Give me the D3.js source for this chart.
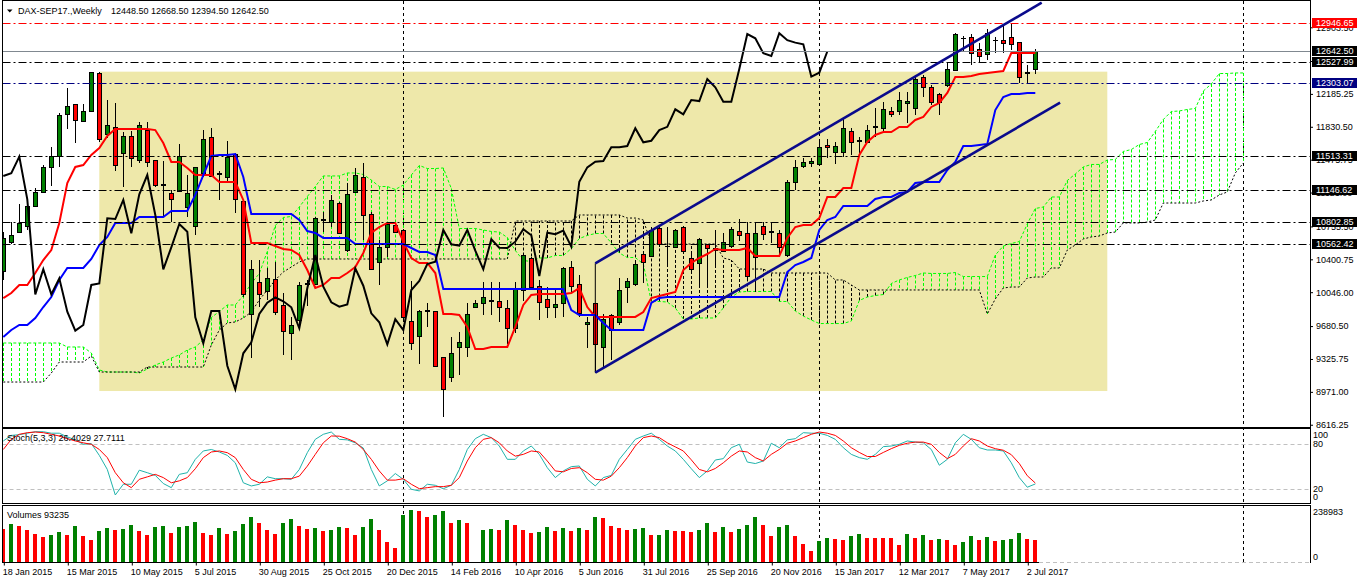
<!DOCTYPE html>
<html>
<head>
<meta charset="utf-8">
<script src="https://cdn.jsdelivr.net/npm/d3@7"></script>
<style>
  body { margin: 0; background: #fff; overflow: hidden; }
  text { font-family: "Liberation Sans", Arial, sans-serif; font-size: 9px; fill: #000; }
</style>
</head>
<body>
<div id="chart"></div>
<script>
// weekly DAX-SEP17 bars, first bar = week of 18 Jan 2015
const opens = [10275,10591,10698,10760,10979,11124,11400,11518,11965,12073, 11896,11997,12407,11749,11831,11544,11728,11472,11796,11472,
  11210,11119,11138,10968,10760,11329,11717,11320,11285,11537, 11033,9808,10159,10062,10185,9908,9603,9746,10135,10135,
  10825,10800,11005,10501,11130,11285,10890,10369,10537,10768, 10717,9732,9577,9850,9843,9344,9134,9458,9451,9890,
  9926,9965,9954,9872,9657,10070,10412,10116,9969,9883, 9926,10321,10131,9700,9926,9452,9797,9721,10105,10131,
  10455,10437,10735,10541,10530,10746,10412,10358,10563,10501, 10494,10544,10710,10688,10429,10763,10692,10688,10447,11231,
  11411,11436,11426,11631,11562,11562,11785,11690,11670,11835, 11820,12000,12000,12084,12030,12371,12263,12181,12281,12443,
  12790,12802,12666,12616,12770,12767,12802,12748,12420,12448.5];
const highs = [10695,10806,10994,11062,11167,11415,11612,11979,12245,12076, 12076,12425,12425,12119,12090,11774,11785,11885,11885,11472,
  11461,11148,11645,11310,11393,11796,11814,11350,11677,11551, 11041,10393,10393,10307,10372,10034,9782,10159,10180,10860,
  10914,11095,11022,11221,11382,11443,10914,10609,10806,10806, 10725,10170,9854,9933,9846,9350,9566,9613,9926,9962,
  10159,10159,10159,9962,10159,10447,10429,10178,10105,10070, 10321,10386,10232,9782,9926,9811,9811,10196,10196,10393,
  10483,10753,10760,10753,10725,10760,10466,10627,10563,10717, 10681,10753,10832,10806,10806,10806,10806,10717,11256,11472,
  11490,11490,11695,11695,11670,11922,11814,11724,11850,12030, 12101,12047,12209,12209,12389,12389,12281,12192,12515,12839,
  12810,12831,12731,12882,12802,12918,12947,12748,12497,12668.5];
const lows = [10178,10563,10681,10717,10968,11113,11195,11400,11806,11652, 11882,11990,11669,11706,11357,11184,11393,11436,11400,11184,
  10868,10806,11130,10860,10663,11292,11292,11040,11238,10897, 9997,9333,9890,9962,9800,9369,9315,9657,9900,10124,
  10698,10746,10671,10483,11113,10609,10285,10124,10429,10681, 9746,9422,9271,9674,9236,8703,9081,9153,9350,9883,
  9800,9800,9728,9487,9603,9951,10070,9746,9764,9764, 9782,10052,9782,9441,9171,9225,9315,9692,9926,10116,
  10148,10429,10537,10339,10520,10483,10256,10105,10105,10304, 10483,10520,10602,10178,10045,10609,10573,10429,10429,11148,
  11382,11400,11418,11490,11429,11508,11526,11515,11652,11717, 11777,11939,11957,11868,11957,12148,12065,11957,12263,12432,
  12640,12497,12515,12551,12623,12623,12659,12299,12306,12394.5];
const closes = [10631,10663,10789,10979,11130,11393,11518,11954,12051,11900, 12004,12418,11695,11846,11415,11728,11490,11846,11447,11199,
  11200,11048,11518,11113,11393,11695,11300,11330,11508,11048, 10023,10293,10023,10196,9836,9631,9692,10124,10140,10843,
  10835,11041,10681,11102,11310,10879,10293,10530,10782,10699, 9775,9495,9843,9843,9253,8999,9387,9506,9811,9933,
  9991,9948,9883,9657,10088,10447,10105,9937,9890,9915, 10304,10116,9818,9722,9484,9754,9638,10070,10167,10350,
  10375,10717,10563,10548,10717,10494,10293,10617,10526,10523, 10591,10725,10660,10221,10688,10671,10710,10537,11238,11393,
  11454,11461,11609,11609,11623,11814,11663,11680,11795,11830, 12019,11965,12119,12108,12346,12256,12101,12101,12454,12831,
  12785,12623,12594,12839,12765,12738,12720,12371,12414,12642.5];

// Ichimoku lines
const tenkan = [9983,10037,10124,10124,10253,10393,10501,10793,11224,11397, 11418,11526,11601,11731,11806,11806,11806,11806,11806,11795,
  11655,11451,11451,11386,11310,11310,11310,11235,11235,11235, 11041,10577,10577,10577,10544,10512,10501,10447,10285,10091,
  10124,10199,10199,10253,10318,10469,10685,10749,10793,10793, 10588,10415,10361,10361,10253,9811,9811,9800,9671,9433,
  9433,9455,9455,9455,9671,9908,10016,10027,10027,10027, 10027,10037,10091,9886,9779,9779,9779,9779,9779,9779,
  9832,9983,10005,10027,10048,10285,10361,10415,10458,10512, 10501,10501,10501,10523,10437,10437,10437,10437,10631,10749,
  10771,10771,10846,11073,11073,11170,11170,11526,11666,11742, 11774,11774,11828,11828,11904,11936,12044,12087,12195,12367,
  12367,12378,12400,12411,12421,12432,12626,12626,12626,12626];
const kijun = [9563,9638,9692,9692,9768,9886,9994,10178,10307,10307, 10307,10404,10555,10642,10793,10793,10793,10857,10857,10857,
  10857,10922,10922,10922,11095,11310,11515,11526,11526,11537, 11289,10890,10890,10890,10890,10890,10890,10825,10706,10685,
  10631,10631,10631,10631,10566,10566,10566,10566,10566,10566, 10566,10523,10480,10480,10447,10081,10081,10081,10081,10081,
  10081,10081,10081,10081,10081,10081,10081,10081,10081,10081, 10081,9854,9800,9800,9800,9714,9638,9638,9638,9638,
  9638,9930,9983,9994,9994,9994,9994,9994,9994,9994, 9994,9994,9994,9994,9994,9994,9994,9994,10264,10339,
  10372,10415,10717,10825,10857,10976,10976,10976,10976,11051, 11073,11073,11116,11127,11224,11235,11235,11235,11364,11451,
  11623,11623,11634,11645,12011,12152,12184,12184,12195,12195];
// cloud spans, 26 bars ahead of price (156 positions)
const spanA = [9498,9498,9498,9498,9498,9498,9498,9498,9455,9455, 9455,9390,9207,9185,9185,9185,9185,9174,9218,9261,
  9293,9336,9369,9422,9455,9530,9773,9838,9908,9908, 10010,10140,10248,10485,10766,10852,10863,10965,11078,11186,
  11300,11300,11300,11332,11332,11316,11256,11186,11186,11154, 11202,11310,11413,11380,11380,11386,11165,10733,10733,10733,
  10717,10701,10695,10636,10496,10388,10377,10415,10415,10442, 10442,10517,10625,10658,10679,10679,10577,10469,10420,10420,
  10350,9946,9946,9940,9876,9757,9757,9768,9768,9768, 9876,9994,10048,10054,10054,10054,10054,9946,9946,9843,
  9789,9746,9708,9708,9708,9708,9735,9957,9994,10010, 10021,10140,10178,10205,10226,10253,10248,10248,10248,10258,
  10215,10215,10215,10215,10447,10544,10571,10593,10782,10949, 10965,11073,11073,11251,11321,11397,11424,11424,11472,11478,
  11564,11585,11639,11661,11780,11909,11995,12001,12017,12028, 12216,12292,12405,12405,12411,12411];
const spanB = [9077,9077,9077,9077,9077,9077,9174,9293,9293,9293, 9293,9358,9185,9185,9185,9185,9185,9185,9239,9239,
  9239,9239,9239,9239,9239,9239,9476,9638,9714,9725, 9768,9832,9962,10070,10178,10264,10318,10372,10404,10404,
  10404,10404,10404,10404,10404,10404,10404,10404,10404,10404, 10404,10404,10404,10404,10404,10404,10404,10404,10404,10404,
  10404,10404,10404,10404,10814,10814,10814,10814,10814,10814, 10814,10814,10879,10879,10879,10879,10879,10879,10846,10846,
  10825,10566,10566,10566,10566,10566,10566,10566,10566,10566, 10415,10393,10296,10296,10296,10296,10253,10253,10253,10253,
  10253,10253,10253,10253,10178,10178,10124,10070,10070,10070, 10070,10070,10070,10070,10070,10070,10070,10070,10070,10070,
  10070,10070,10070,9811,9973,10091,10102,10102,10199,10210, 10210,10307,10307,10501,10555,10620,10642,10652,10685,10695,
  10793,10793,10793,10803,10825,11008,11008,11008,11008,11008, 11030,11041,11095,11127,11332,11440];

const stochK = [84.5,92,93,95,97,97,95,95,90,86, 80,81,65,46,11.5,26,26,45,41.6,38,
  27,21.4,39.4,41.6,59.7,71,73,69.6,65,55, 28,23.7,26,36,33.5,33.5,32.7,46,68.7,86.7,
  93.5,96.6,86.7,86,82,75,46,23.7,30.6,40.5, 32.7,19.2,17,26,24.6,20,24.6,46,73,87.6,
  93.5,89,77.7,59.7,59.7,71,77.7,66.4,48.4,35, 44,49.8,50.7,32.7,23.7,35,38,59.7,73,86.7,
  91.2,95,86.7,77.7,71,59.7,47,35,44,58.8, 60.6,75.4,80,56,54,57.4,81.4,75.4,86,87.6,
  95.7,95,95,92,86.7,75.4,66.4,62,59.7,66.4, 76.8,77.7,80,84.5,83,82,73,51.7,59.7,82,
  93.5,86.7,75.4,72.3,72.3,71,55,35,22,26.4029];
const stochD = [73,86.7,93.5,95.7,96.6,95.7,93.5,91.2,87.6,84.5, 82,80,73,62,41.6,28,21.4,32.7,36,39.4,
  35,28,30.6,35,47,62,69.6,71,68.7,62, 46,32.7,28,29,31.6,33.5,33.5,37,50.5,66.4,
  82,91.2,91,87.6,83,73,59.7,44,31.6,31.6, 33.5,26,20,21.4,22.8,22.8,24.6,35,57.4,75.4,
  86.7,89,82,71,64,66.4,71,69.6,57.4,44, 42.8,47.3,48.4,41.6,32.7,31.6,37,48.4,62,77.7,
  89,91.2,89,82,76.5,71,59,46,42.8,47.3, 55,64,71,69.6,62,57.4,66.4,73,81.4,84.5,
  89,93.5,96.6,95,92,84.5,75.4,69,63.5,63.5, 69,74.1,78.6,81.4,83,83,80,69,60.6,66.4,
  77.7,87.6,84.5,77.7,74.1,72,66,54,37.5,27.7111];
const volumes = [142200,162920,153260,136690,121500,104930,117360,128410,117360,153260,
  109080,95270,132550,146350,136690,142210,158780,133930,113220,150500,
  154640,125640,150500,154640,169830,124260,117360,146350,121500,132550,
  162920,191920,167060,138070,121500,165680,183630,153260,142210,146350,
  133930,136690,150500,146350,117360,150500,183630,136690,84220,59370,
  200200,220910,216770,191920,200200,216770,167060,179490,167060,1380,
  138070,140830,138070,179490,158780,138070,125640,129790,150500,133930,
  146350,133930,146350,138070,191920,187780,154640,146350,138070,140830,
  143590,113220,117360,138070,133930,132550,129790,136690,165680,128410,
  149120,128410,142210,157400,190540,157400,111840,149120,157400,111840,
  78700,49710,91130,103550,99410,95270,111840,120120,103550,102860,
  102170,101480,74560,120120,103550,115980,93890,96650,94580,74560,
  86980,111840,95270,107690,91130,95270,96650,124260,99410,93235];

const dateLabels = ["18 Jan 2015","15 Mar 2015","10 May 2015","5 Jul 2015","30 Aug 2015","25 Oct 2015",
  "20 Dec 2015","14 Feb 2016","10 Apr 2016","5 Jun 2016","31 Jul 2016","25 Sep 2016","20 Nov 2016",
  "15 Jan 2017","12 Mar 2017","7 May 2017","2 Jul 2017"];
const priceTicks = [12903.50,12540.00,12185.25,11830.50,11475.75,11121.00,10755.50,10400.75,10046.00,9680.50,9325.75,8971.00,8616.25];
const yearSeparators = [50, 102, 155];
const hLevels = [12946.65, 12527.99, 12303.07, 11513.31, 11146.62, 10802.85, 10562.42];
const bidPrice = 12642.50;
const zone = {bar1: 12, bar2: 138, top: 12425, bottom: 8980};
const channelUpper = [[74, 10358], [129.8, 13169]];
const channelLower = [[74, 9178], [132.1, 12090]];

const levelColor = {12946.65: "#ff0000", 12303.07: "#000080"};

const W = 1358, H = 584;
const L = 2.5, R = 1310;

const x = d3.scaleLinear().domain([0, 155]).range([3.3, 1243.3]);
const y = d3.scaleLinear().domain([8591.9, 13187.2]).range([427, 1]);
const ySt = d3.scaleLinear().domain([0, 100]).range([503.5, 429.5]);
const yVol = d3.scaleLinear().domain([0, 238983]).range([562.5, 505.5]);
const px = i => Math.round(x(i));

const svg = d3.select("#chart").append("svg")
  .attr("width", W).attr("height", H).style("display", "block");

const defs = svg.append("defs");
defs.append("clipPath").attr("id", "clipMain").append("rect")
  .attr("x", L).attr("y", 0.5).attr("width", R - L).attr("height", 426.5);
defs.append("clipPath").attr("id", "clipSt").append("rect")
  .attr("x", L).attr("y", 428.5).attr("width", R - L).attr("height", 74.5);
defs.append("clipPath").attr("id", "clipVol").append("rect")
  .attr("x", L).attr("y", 505.5).attr("width", R - L).attr("height", 57);

// background rectangle object
const gBack = svg.append("g").attr("clip-path", "url(#clipMain)");
gBack.append("rect")
  .attr("x", x(zone.bar1)).attr("y", y(zone.top))
  .attr("width", x(zone.bar2) - x(zone.bar1))
  .attr("height", y(zone.bottom) - y(zone.top))
  .attr("fill", "#eee8aa");

// period separators
svg.append("g").selectAll("line").data(yearSeparators).join("line")
  .attr("x1", d => px(d) + 0.5).attr("x2", d => px(d) + 0.5)
  .attr("y1", 1).attr("y2", 562)
  .attr("stroke", "#000").attr("stroke-dasharray", "3,3");

const gMain = svg.append("g").attr("clip-path", "url(#clipMain)");

// kumo hatching
const kumo = d3.range(spanA.length);
gMain.append("g").selectAll("line").data(kumo).join("line")
  .attr("x1", i => px(i) + 0.5).attr("x2", i => px(i) + 0.5)
  .attr("y1", i => y(spanA[i])).attr("y2", i => y(spanB[i]))
  .attr("stroke", i => spanA[i] > spanB[i] ? "#00ff00" : "#000")
  .attr("stroke-dasharray", "3,2");

gMain.append("path").datum(kumo)
  .attr("d", d3.line().x(i => x(i)).y(i => y(spanA[i])))
  .attr("fill", "none").attr("stroke", "#00ff00").attr("stroke-dasharray", "3,2");
gMain.append("path").datum(kumo)
  .attr("d", d3.line().x(i => x(i)).y(i => y(spanB[i])))
  .attr("fill", "none").attr("stroke", "#000").attr("stroke-dasharray", "2,2");

// candles
const bars = d3.range(closes.length);
const gC = gMain.append("g").attr("shape-rendering", "crispEdges");
gC.selectAll("line.wick").data(bars).join("line").attr("class", "wick")
  .attr("x1", i => px(i) + 0.5).attr("x2", i => px(i) + 0.5)
  .attr("y1", i => y(highs[i])).attr("y2", i => y(lows[i]))
  .attr("stroke", "#000");

const bodyTop = i => Math.round(y(Math.max(opens[i], closes[i]))) + 0.5;
const bodyBot = i => Math.round(y(Math.min(opens[i], closes[i]))) + 0.5;
const solid = bars.filter(i => bodyBot(i) - bodyTop(i) >= 1);
const dojis = bars.filter(i => bodyBot(i) - bodyTop(i) < 1);

gC.selectAll("rect.body").data(solid).join("rect").attr("class", "body")
  .attr("x", i => px(i) - 1.5).attr("width", 4)
  .attr("y", bodyTop).attr("height", i => bodyBot(i) - bodyTop(i))
  .attr("fill", i => closes[i] > opens[i] ? "#008000" : "#ff0000")
  .attr("stroke", "#000");
gC.selectAll("line.doji").data(dojis).join("line").attr("class", "doji")
  .attr("x1", i => px(i) - 2).attr("x2", i => px(i) + 3)
  .attr("y1", bodyTop).attr("y2", bodyTop)
  .attr("stroke", "#000");

// tenkan, kijun, chikou
gMain.append("path").datum(bars)
  .attr("d", d3.line().x(i => x(i)).y(i => y(tenkan[i])))
  .attr("fill", "none").attr("stroke", "#ff0000").attr("stroke-width", 2);
gMain.append("path").datum(bars)
  .attr("d", d3.line().x(i => x(i)).y(i => y(kijun[i])))
  .attr("fill", "none").attr("stroke", "#0000ff").attr("stroke-width", 2);
gMain.append("path").datum(d3.range(closes.length - 26))
  .attr("d", d3.line().x(i => x(i)).y(i => y(closes[i + 26])))
  .attr("fill", "none").attr("stroke", "#000").attr("stroke-width", 2);

// horizontal level objects
gMain.append("g").selectAll("line").data(hLevels).join("line")
  .attr("x1", L).attr("x2", R)
  .attr("y1", d => Math.round(y(d)) + 0.5).attr("y2", d => Math.round(y(d)) + 0.5)
  .attr("stroke", d => levelColor[d] || "#000")
  .attr("stroke-dasharray", "8,3,2,3");
gMain.append("line")
  .attr("x1", L).attr("x2", R)
  .attr("y1", Math.round(y(bidPrice)) + 0.5).attr("y2", Math.round(y(bidPrice)) + 0.5)
  .attr("stroke", "#808890");

// channel
gMain.append("line")
  .attr("x1", x(channelUpper[0][0])).attr("x2", x(channelLower[0][0]))
  .attr("y1", y(channelUpper[0][1])).attr("y2", y(channelLower[0][1]))
  .attr("stroke", "#000");
[channelUpper, channelLower].forEach(c => {
  gMain.append("line")
    .attr("x1", x(c[0][0])).attr("y1", y(c[0][1]))
    .attr("x2", x(c[1][0])).attr("y2", y(c[1][1]))
    .attr("stroke", "#0a0a8c").attr("stroke-width", 2.6);
});

// stochastic pane
const gSt = svg.append("g").attr("clip-path", "url(#clipSt)");
gSt.selectAll("line.lvl").data([80, 20]).join("line").attr("class", "lvl")
  .attr("x1", L).attr("x2", R)
  .attr("y1", d => Math.round(ySt(d)) + 0.5).attr("y2", d => Math.round(ySt(d)) + 0.5)
  .attr("stroke", "#c0c0c0").attr("stroke-dasharray", "4,3");
gSt.append("path").datum(bars)
  .attr("d", d3.line().x(i => x(i)).y(i => ySt(stochK[i])))
  .attr("fill", "none").attr("stroke", "#20b2aa");
gSt.append("path").datum(bars)
  .attr("d", d3.line().x(i => x(i)).y(i => ySt(stochD[i])))
  .attr("fill", "none").attr("stroke", "#ff0000");
svg.append("text").attr("x", 7).attr("y", 441)
  .text(`Stoch(5,3,3) ${stochK[stochK.length - 1].toFixed(4)} ${stochD[stochD.length - 1].toFixed(4)}`);

// volume pane
const gVol = svg.append("g").attr("clip-path", "url(#clipVol)").attr("shape-rendering", "crispEdges");
gVol.selectAll("rect").data(bars).join("rect")
  .attr("x", i => px(i) - 2).attr("width", 4)
  .attr("y", i => yVol(volumes[i])).attr("height", i => yVol(0) - yVol(volumes[i]))
  .attr("fill", i => i > 0 && volumes[i] > volumes[i - 1] ? "#008000" : "#ff0000");
svg.append("text").attr("x", 7).attr("y", 518)
  .text(`Volumes ${volumes[volumes.length - 1]}`);

// pane borders
const borders = svg.append("g").attr("fill", "none").attr("stroke", "#000").attr("shape-rendering", "crispEdges");
borders.append("rect").attr("x", L).attr("y", 0.5).attr("width", R - L).attr("height", 426.5);
borders.append("rect").attr("x", L).attr("y", 428.5).attr("width", R - L).attr("height", 74.5);
borders.append("path").attr("d", `M${R},562.5V505.5H${L}V562.5H${px(bars.length - 1) + 4}`);
svg.append("line").attr("x1", px(bars.length - 1) + 4).attr("x2", R)
  .attr("y1", 562.5).attr("y2", 562.5)
  .attr("stroke", "#c0c0c0").attr("stroke-dasharray", "4,3");

// price axis
const yAxis = svg.append("g").attr("transform", `translate(${R},0)`)
  .call(d3.axisRight(y).tickValues(priceTicks).tickFormat(d3.format(".2f")).tickSize(3).tickPadding(3));
yAxis.select(".domain").remove();
yAxis.selectAll("text").attr("font-family", null).attr("font-size", null);
yAxis.selectAll("line").attr("stroke", "#000");

// level labels on the axis
const boxes = svg.append("g");
[...hLevels, bidPrice].forEach(p => {
  const cy = Math.round(y(p));
  boxes.append("rect").attr("x", R + 2).attr("y", cy - 5).attr("width", 45).attr("height", 10)
    .attr("fill", levelColor[p] || "#000");
  boxes.append("text").attr("x", R + 6).attr("y", cy).attr("dy", "0.35em")
    .style("fill", "#fff").text(p.toFixed(2));
});

// stochastic / volume scale labels
const clamp = (v, a, b) => Math.max(a, Math.min(b, v));
svg.append("g").selectAll("text").data([100, 80, 20, 0]).join("text")
  .attr("x", R + 3).attr("y", d => clamp(ySt(d), 434.5, 497)).attr("dy", "0.35em")
  .text(d => d);
svg.append("g").selectAll("text").data([238983, 0]).join("text")
  .attr("x", R + 3).attr("y", d => clamp(yVol(d), 511.5, 556.5)).attr("dy", "0.35em")
  .text(d => d);

// date axis
const xAxis = svg.append("g").attr("transform", "translate(0,562.5)")
  .call(d3.axisBottom(x).tickValues(d3.range(0, bars.length, 8))
    .tickFormat((d, k) => dateLabels[k]).tickSize(3).tickPadding(3));
xAxis.select(".domain").remove();
xAxis.selectAll("line").attr("stroke", "#000").attr("transform", "translate(0.5,0)");
xAxis.selectAll("text").attr("font-family", null).attr("font-size", null)
  .attr("text-anchor", "start").attr("x", -1);

// header
const last = bars.length - 1;
svg.append("path").attr("d", "M7,9.5L12.5,9.5L9.75,12.5Z").attr("fill", "#000");
svg.append("text").attr("x", 18).attr("y", 14).text("DAX-SEP17.,Weekly");
svg.append("text").attr("x", 111).attr("y", 14)
  .text([opens[last], highs[last], lows[last], closes[last]].map(v => v.toFixed(2)).join(" "));
</script>
</body>
</html>
